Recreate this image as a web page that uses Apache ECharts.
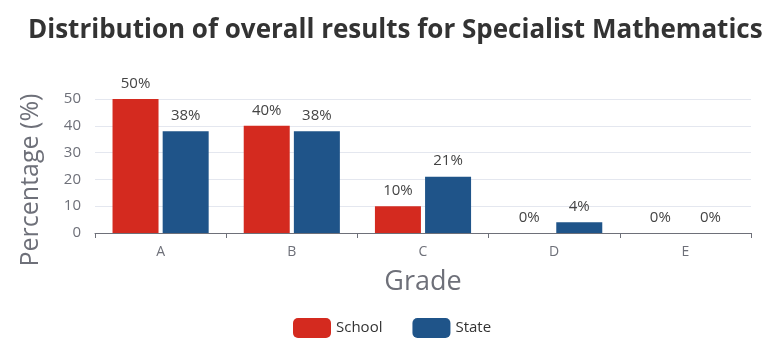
<!DOCTYPE html>
<html lang="en">
<head>
    <meta charset="utf-8">
    <script src="https://cdn.jsdelivr.net/npm/echarts@6/dist/echarts.min.js"></script>
    <style>
        html, body { margin: 0; padding: 0; background: #fff; }
        #main { width: 769px; height: 353px; }
    </style>
</head>
<body>
<div id="main"></div>
<script type="text/javascript">
    // 数据
    var grades = ['A', 'B', 'C', 'D', 'E'];
    var schoolPct = [50, 40, 10, 0, 0];
    var statePct = [38, 38, 21, 4, 0];
    var seriesNames = ['School', 'State'];

    var chart = echarts.init(document.getElementById('main'));
    var font = "'Open Sans', 'Noto Sans', sans-serif";

    var labelOpt = {
        show: true,
        position: 'top',
        formatter: '{c}%',
        fontFamily: font,
        fontSize: 15,
        color: '#444',
        distance: 8
    };

    var option = {
        textStyle: { fontFamily: font },
        title: {
            text: 'Distribution of overall results for Specialist Mathematics',
            left: 23,
            top: 13,
            textStyle: { fontFamily: font, fontSize: 26, fontWeight: 'bold', color: '#333' }
        },
        legend: {
            data: seriesNames,
            bottom: 10,
            left: 288,
            itemWidth: 38,
            itemHeight: 20,
            itemGap: 30,
            textStyle: { fontFamily: font, fontSize: 15, color: '#333' }
        },
        grid: { left: 95, right: 18, top: 99, bottom: 120 },
        xAxis: {
            type: 'category',
            data: grades,
            name: 'Grade',
            nameLocation: 'middle',
            nameGap: 36,
            nameTextStyle: { fontFamily: font, fontSize: 27, color: '#6e7079' },
            axisLine: { lineStyle: { color: '#6e7079' } },
            axisTick: { show: true },
            axisLabel: { fontFamily: font, fontSize: 14, color: '#6e7079', margin: 12 }
        },
        yAxis: {
            type: 'value',
            min: 0,
            max: 50,
            interval: 10,
            name: 'Percentage (%)',
            nameLocation: 'middle',
            nameGap: 52,
            nameTextStyle: { fontFamily: font, fontSize: 25, color: '#6e7079', padding: [0, 0, 0, -28] },
            axisLabel: { fontFamily: font, fontSize: 15, color: '#6e7079', margin: 14 },
            splitLine: { lineStyle: { color: '#e4e7ef' } }
        },
        series: [
            {
                name: seriesNames[0],
                type: 'bar',
                data: schoolPct,
                barWidth: 46,
                barGap: '9%',
                itemStyle: { color: '#d42a1f' },
                label: labelOpt
            },
            {
                name: seriesNames[1],
                type: 'bar',
                data: statePct,
                barWidth: 46,
                itemStyle: { color: '#1f5489' },
                label: labelOpt
            }
        ]
    };
    chart.setOption(option);
</script>
</body>
</html>
